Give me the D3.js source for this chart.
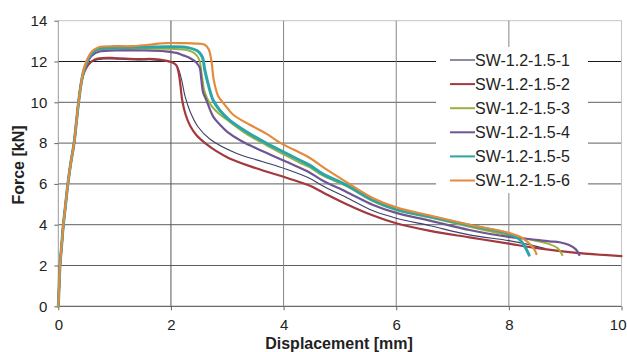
<!DOCTYPE html>
<html>
<head>
<meta charset="utf-8">
<script src="https://cdn.jsdelivr.net/npm/d3@7"></script>
<style>
  body { margin: 0; background: #fff; }
  svg { display: block; }
  text { font-family: "Liberation Sans", Arial, sans-serif; }
</style>
</head>
<body>
<svg id="chart" width="627" height="352"></svg>
<script>
// Force–displacement curves of six SW-1.2-1.5 specimens
const seriesNames = ["SW-1.2-1.5-1", "SW-1.2-1.5-2", "SW-1.2-1.5-3", "SW-1.2-1.5-4", "SW-1.2-1.5-5", "SW-1.2-1.5-6"];
const seriesColors = ["#3c4066", "#a3383e", "#9bb040", "#6e5594", "#2aa6a8", "#e48b3b"];
const seriesWidths = [1.1, 2.2, 2, 2.2, 3, 2.2];
const xTicks = [0, 2, 4, 6, 8, 10];
const yTicks = [0, 2, 4, 6, 8, 10, 12, 14];

// [displacement mm, force kN]
const sw1 = [[0,0],[0.015,1],[0.03,2],[0.06,3],[0.09,4],[0.13,5],[0.17,6],[0.22,7],[0.28,8],[0.32,9],[0.36,10],[0.41,11],
  [0.47,11.55],[0.55,11.88],[0.65,12.06],[0.78,12.12],[1.0,12.12],[1.4,12.08],[1.7,12.08],[1.9,12.02],[2.05,11.92],[2.13,11.65],
  [2.19,11.1],[2.25,10.3],[2.34,9.55],[2.48,8.8],[2.69,8.2],[3.16,7.5],[3.63,7.09],[4.05,6.72],[4.46,6.28],[4.7,5.9],
  [5.11,5.35],[5.59,4.68],[6.0,4.32],[6.6,3.95],[7.3,3.5],[8.0,3.22],[8.4,3.0],[8.65,2.83]];
const sw2 = [[0,0],[0.015,1],[0.03,2],[0.06,3],[0.09,4],[0.13,5],[0.17,6],[0.22,7],[0.28,8],[0.32,9],[0.36,10],[0.41,11],
  [0.47,11.55],[0.55,11.9],[0.65,12.1],[0.78,12.17],[1.0,12.17],[1.4,12.12],[1.7,12.12],[1.9,12.05],[2.03,11.95],[2.1,11.8],
  [2.14,11.4],[2.17,10.8],[2.2,10.1],[2.26,9.4],[2.34,8.85],[2.45,8.4],[2.63,7.95],[2.8,7.62],[3.04,7.25],[3.5,6.78],
  [4.05,6.3],[4.46,5.92],[4.7,5.58],[5.11,5.02],[5.59,4.45],[6.0,4.07],[6.6,3.7],[7.3,3.38],[8.0,3.07],[8.5,2.85],[9.2,2.62],[10,2.46]];
const sw3 = [[0,0],[0.015,1],[0.03,2],[0.06,3],[0.09,4],[0.13,5],[0.17,6],[0.22,7],[0.28,8],[0.32,9],[0.36,10],[0.41,11],
  [0.46,11.6],[0.52,12.0],[0.6,12.4],[0.75,12.6],[1.0,12.62],[1.5,12.62],[2.0,12.62],[2.3,12.55],[2.42,12.4],[2.5,12.1],
  [2.55,11.3],[2.6,10.5],[2.7,9.9],[2.85,9.45],[3.04,9.05],[3.34,8.45],[3.69,7.9],[3.93,7.55],[4.28,7.05],[4.46,6.82],
  [4.7,6.4],[5.11,5.9],[5.59,5.15],[6.0,4.72],[6.6,4.35],[7.3,3.9],[8.0,3.47],[8.36,3.28],[8.72,3.05],[8.87,2.84],[8.95,2.51]];
const sw4 = [[0,0],[0.015,1],[0.03,2],[0.06,3],[0.09,4],[0.13,5],[0.17,6],[0.22,7],[0.28,8],[0.32,9],[0.36,10],[0.41,11],
  [0.46,11.6],[0.52,11.98],[0.6,12.3],[0.75,12.5],[1.0,12.54],[1.5,12.54],[1.9,12.5],[2.1,12.42],[2.22,12.3],[2.35,12.15],
  [2.45,11.95],[2.51,11.7],[2.54,11.1],[2.57,10.5],[2.63,10.1],[2.75,9.3],[2.87,8.9],[3.0,8.55],[3.25,8.1],[3.63,7.6],
  [4.05,7.08],[4.28,6.8],[4.46,6.56],[4.7,6.15],[5.11,5.62],[5.59,4.97],[6.0,4.58],[6.6,4.2],[7.3,3.74],[8.0,3.4],
  [8.36,3.3],[8.72,3.18],[8.9,3.14],[9.07,3.0],[9.19,2.79],[9.25,2.51]];
const sw5 = [[0,0],[0.015,1],[0.03,2],[0.06,3],[0.09,4],[0.13,5],[0.17,6],[0.22,7],[0.28,8],[0.32,9],[0.36,10],[0.41,11],
  [0.46,11.62],[0.52,12.05],[0.6,12.42],[0.72,12.63],[1.0,12.68],[1.5,12.7],[2.0,12.72],[2.3,12.68],[2.45,12.55],[2.5,12.45],
  [2.56,12.2],[2.6,11.6],[2.66,10.9],[2.75,10.1],[2.87,9.6],[3.04,9.13],[3.34,8.56],[3.69,8.0],[3.93,7.66],[4.28,7.17],
  [4.46,6.92],[4.7,6.48],[5.11,5.95],[5.59,5.2],[6.0,4.75],[6.6,4.4],[7.3,3.97],[8.0,3.55],[8.2,3.25],[8.3,2.84],[8.36,2.51]];
const sw6 = [[0,0],[0.015,1],[0.03,2],[0.06,3],[0.09,4],[0.13,5],[0.17,6],[0.22,7],[0.28,8],[0.32,9],[0.36,10],[0.41,11],
  [0.46,11.7],[0.52,12.15],[0.6,12.5],[0.72,12.7],[1.0,12.75],[1.3,12.75],[1.6,12.82],[1.9,12.9],[2.2,12.9],[2.45,12.88],
  [2.6,12.82],[2.67,12.6],[2.72,12.0],[2.76,11.1],[2.84,10.3],[2.95,9.9],[3.1,9.4],[3.4,8.9],[3.7,8.45],[3.95,8.0],
  [4.46,7.28],[4.7,6.82],[5.11,6.1],[5.59,5.3],[6.0,4.85],[6.6,4.45],[7.3,4.0],[8.0,3.6],[8.24,3.35],[8.39,3.0],[8.46,2.75],[8.49,2.56]];

const seriesData = [sw1, sw2, sw3, sw4, sw5, sw6];

const svg = d3.select("#chart");
const x = d3.scaleLinear().domain([0, 10]).range([58.3, 621.5]);
const y = d3.scaleLinear().domain([0, 14]).range([306.3, 20.7]);

// horizontal grid lines
svg.append("g").selectAll("line").data(yTicks).join("line")
  .attr("x1", x(0)).attr("x2", x(10))
  .attr("y1", d => y(d)).attr("y2", d => y(d))
  .attr("stroke", d => d === 14 ? "#c4c4c4" : d === 12 ? "#1a1a1a" : d === 0 ? "#444" : "#5e5e5e")
  .attr("stroke-width", 1);

// vertical grid lines
svg.append("g").selectAll("line").data(xTicks).join("line")
  .attr("x1", d => x(d)).attr("x2", d => x(d))
  .attr("y1", y(14)).attr("y2", y(0))
  .attr("stroke", d => d === 10 ? "#c4c4c4" : d === 0 ? "#9a9a9a" : d === 2 ? "#555" : "#858585")
  .attr("stroke-width", 1);

// axes with tick labels
const xAxis = d3.axisBottom(x).tickValues(xTicks).tickSize(4).tickSizeOuter(0).tickFormat(d3.format("d"));
const yAxis = d3.axisLeft(y).tickValues(yTicks).tickSize(4).tickSizeOuter(0).tickFormat(d3.format("d"));

const gx = svg.append("g").attr("transform", `translate(0,${y(0)})`).call(xAxis);
gx.select(".domain").remove();
gx.selectAll(".tick line").attr("stroke", "#666");
gx.selectAll(".tick text").attr("font-size", 15).attr("fill", "#222").attr("dy", "1.1em")
  .attr("font-family", "Liberation Sans, Arial, sans-serif");
// last label kept inside the page edge
gx.selectAll(".tick text").filter(d => d === 10).attr("text-anchor", "end").attr("x", 626 - x(10));

const gy = svg.append("g").attr("transform", `translate(${x(0)},0)`).call(yAxis);
gy.select(".domain").remove();
gy.selectAll(".tick line").attr("stroke", "#666");
gy.selectAll(".tick text").attr("font-size", 15).attr("fill", "#222").attr("x", -11)
  .attr("font-family", "Liberation Sans, Arial, sans-serif");

// axis titles
svg.append("text").attr("x", 339).attr("y", 349).attr("text-anchor", "middle")
  .attr("font-size", 16).attr("font-weight", "bold").attr("fill", "#222").text("Displacement [mm]");
svg.append("text").attr("transform", "translate(24,165) rotate(-90)").attr("text-anchor", "middle")
  .attr("font-size", 16).attr("font-weight", "bold").attr("fill", "#222").text("Force [kN]");

// curves
const line = d3.line().x(d => x(d[0])).y(d => y(d[1])).curve(d3.curveCatmullRom.alpha(0.5));
svg.append("g").selectAll("path").data(seriesData).join("path")
  .attr("d", line)
  .attr("fill", "none")
  .attr("stroke", (d, i) => seriesColors[i])
  .attr("stroke-width", (d, i) => seriesWidths[i])
  .attr("stroke-linejoin", "round")
  .attr("stroke-linecap", "round");

// legend
const legend = svg.append("g");
legend.append("rect").attr("x", 436).attr("y", 47).attr("width", 152).attr("height", 146).attr("fill", "#fff");
const rows = legend.selectAll("g.row").data(seriesNames).join("g")
  .attr("class", "row")
  .attr("transform", (d, i) => `translate(0,${60 + i * 24.1})`);
rows.append("line").attr("x1", 450).attr("x2", 475).attr("y1", 0).attr("y2", 0)
  .attr("stroke", (d, i) => seriesColors[i]).attr("stroke-width", (d, i) => i === 0 ? 1.2 : 2);
rows.append("text").attr("x", 475).attr("y", 0).attr("dy", "0.36em")
  .attr("font-size", 16).attr("fill", "#222").text(d => d);
</script>
</body>
</html>
